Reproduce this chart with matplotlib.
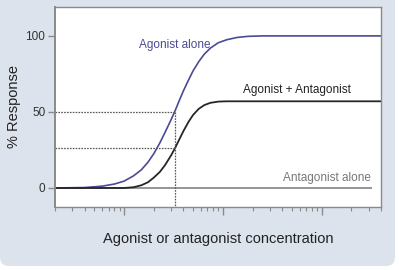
import matplotlib
matplotlib.use('Agg')
import matplotlib.pyplot as plt
from matplotlib.patches import FancyBboxPatch
from matplotlib.transforms import IdentityTransform
from matplotlib.ticker import LogLocator, NullFormatter

plt.rcParams['font.family'] = ['Liberation Sans', 'DejaVu Sans']

# values (concentration, % response)
conc = [0.2, 0.4, 0.6, 0.8, 1.0, 1.25, 1.5, 1.75, 2.0, 2.3, 2.6, 3.0, 3.3,
        3.6, 4.0, 4.5, 5.0, 5.7, 6.5, 7.5, 9, 11, 14, 18, 25, 400]
agonist_alone = [0, 0.3, 1.2, 2.6, 4.5, 8, 12, 17, 22.5, 29.5, 36.5, 45, 51,
                 57, 64, 71, 77, 83, 88, 92, 95.5, 97.5, 99, 99.7, 100, 100]
agonist_plus_antag = [0, 0, 0, 0, 0, 0.5, 1.8, 3.8, 6.8, 10.5, 15, 21.5, 26.5,
                      31.5, 37.5, 43.5, 48, 52, 54.5, 56, 56.8, 57, 57, 57, 57, 57]
antag_conc = [0.2, 325]
antag_alone = [0, 0]

ec50 = 3.25          # dotted guide lines
half_max = 50
half_reduced = 26

bg = '#dce3ec'
blue = '#4b4a94'
grey = '#8a8a8a'

fig = plt.figure(figsize=(3.99, 2.70), dpi=100)
fig.patches.append(FancyBboxPatch((0, 4), 395, 290, boxstyle='round,pad=0,rounding_size=9',
                                  transform=IdentityTransform(), facecolor=bg,
                                  edgecolor='none', zorder=-10))
ax = fig.add_axes([55/399, 1 - 207/270, 326/399, 200/270])
ax.set_facecolor('white')

ax.plot(antag_conc, antag_alone, color='#8c8c8c', lw=1.3, solid_capstyle='butt')
ax.plot(conc, agonist_alone, color=blue, lw=1.2)
ax.plot(conc, agonist_plus_antag, color='#262626', lw=1.3)

dot = (0, (1.3, 1.0))
ax.plot([0.2, ec50], [half_max, half_max], color='#555555', lw=0.9, ls=dot)
ax.plot([0.2, ec50], [half_reduced, half_reduced], color='#555555', lw=0.9, ls=dot)
ax.plot([ec50, ec50], [half_max, -13], color='#555555', lw=0.9, ls=dot)

ax.set_xscale('log')
ax.set_xlim(0.2, 400)
ax.set_ylim(-12.5, 119)
ax.set_yticks([0, 50, 100])
ax.xaxis.set_major_locator(LogLocator(base=10, numticks=10))
ax.xaxis.set_minor_locator(LogLocator(base=10, subs=range(2, 10), numticks=20))
ax.xaxis.set_major_formatter(NullFormatter())
ax.xaxis.set_minor_formatter(NullFormatter())
ax.tick_params(axis='y', direction='out', length=5, width=1, color=grey,
               labelsize=8.5, labelcolor='#333333', pad=2)
ax.tick_params(axis='x', which='major', direction='out', length=5.5, width=1, color=grey)
ax.tick_params(axis='x', which='minor', direction='out', length=3, width=0.8, color=grey)
for s in ax.spines.values():
    s.set_color(grey)
    s.set_linewidth(1)
ax.spines['left'].set_linewidth(1.4)

ax.text(3.26, 94, 'Agonist alone', color=blue, fontsize=8.5, ha='center', va='center')
ax.text(56, 64.5, 'Agonist + Antagonist', color='#222222', fontsize=8.5,
        ha='center', va='center')
ax.text(315, 6.8, 'Antagonist alone', color='#777777', fontsize=8.5,
        ha='right', va='center')

ax.set_ylabel('% Response', fontsize=10.5, color='#222222', labelpad=3)
ax.set_xlabel('Agonist or antagonist concentration', fontsize=10.5, color='#222222',
              labelpad=9)

fig.savefig('out.png', dpi=100, facecolor='white')
